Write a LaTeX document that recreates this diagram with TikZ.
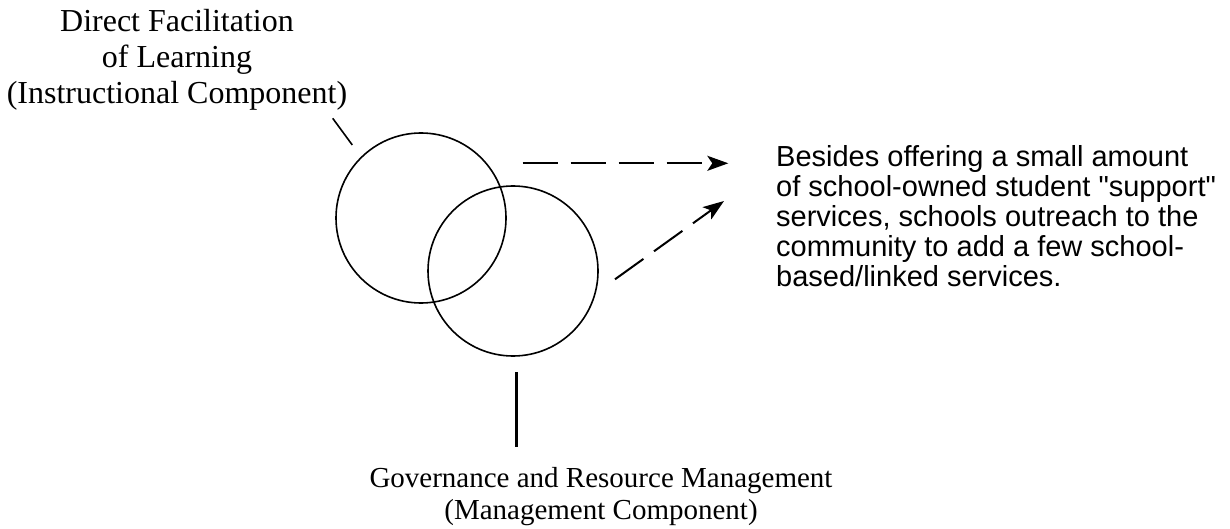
\documentclass[tikz,border=0pt]{standalone}
\usepackage{fontspec}
\setmainfont{Liberation Serif}
\newfontfamily\helv{Liberation Sans}
\usetikzlibrary{calc}
\usetikzlibrary{arrows.meta}

\begin{document}
\begin{tikzpicture}[x=1pt,y=-1pt,
  ring/.style={circle,draw,line width=1.6pt,minimum size=170pt,inner sep=0pt},
  dasharrow/.style={line width=2pt,dash pattern=on 35pt off 13pt,-{Stealth[length=21pt,width=15pt,inset=5pt]}}]
\useasboundingbox (0,0) rectangle (1230,529);
\node[ring] (I) at (421,218) {};
\node[ring] (M) at (513,271) {};
\node[anchor=north, align=center, inner sep=0pt, font=\fontsize{32}{36}\selectfont] (instr) at (177,9) {Direct Facilitation\\of Learning\\(Instructional Component)};
\node[anchor=north, align=center, inner sep=0pt, font=\fontsize{29}{32.6}\selectfont] (mgmt) at (601,467) {Governance and Resource Management\\(Management Component)};
\node[anchor=north west, align=left, inner sep=0pt, font=\helv\fontsize{29}{30}\selectfont] (note) at (776,145) {Besides offering a small amount\\of school-owned student "support"\\services, schools outreach to the\\community to add a few school-\\based/linked services.};
\coordinate (A) at (332.7,118.3);
\coordinate (A2) at (352.3,145);
\draw[line width=1.6pt] (A) -- (A2);
\coordinate (B) at (516.7,372.3);
\coordinate (B2) at (516.7,446.7);
\draw[line width=2.6pt] (B) -- (B2);
\coordinate (C) at (522.7,163.3);
\coordinate (C2) at (728.3,163.3);
\draw[dasharrow] (C) -- (C2);
\coordinate (D) at (615,279.3);
\coordinate (D2) at (724,201);
\draw[dasharrow] (D) -- (D2);
\end{tikzpicture}
\end{document}
